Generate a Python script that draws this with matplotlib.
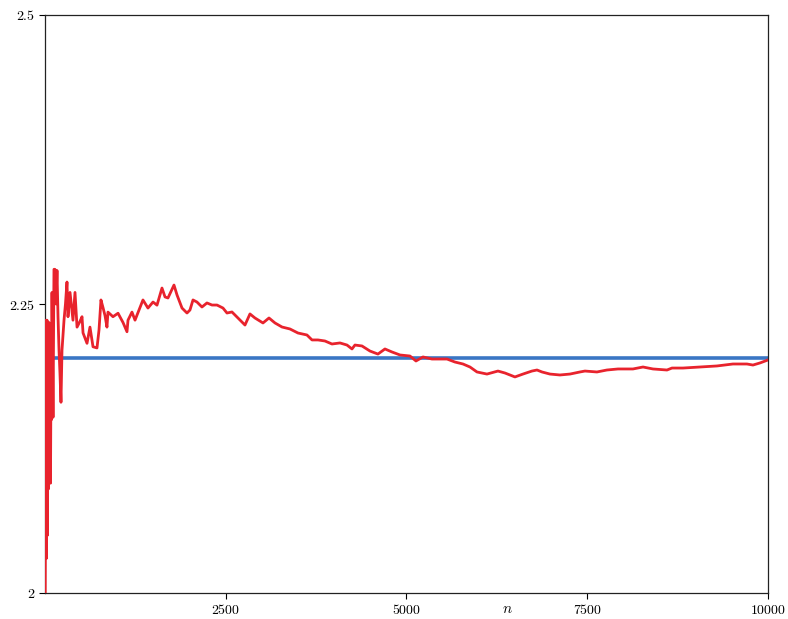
import matplotlib
matplotlib.use("Agg")
import matplotlib.pyplot as plt
from matplotlib.ticker import FixedLocator, FuncFormatter

plt.rcParams["mathtext.fontset"] = "cm"

# Reference constant
target = 2.203

# Running estimate as a function of the number of samples n
n_vals = [1, 14, 21, 28, 35, 41, 48, 55, 62, 69, 76, 83, 90, 97, 111, 124, 138, 152, 166,
          180, 194, 207, 221, 235, 263, 283, 304, 318, 346, 387, 415, 443, 484, 512, 526,
          581, 622, 664, 719, 747, 774, 802, 830, 857, 871, 940, 1010, 1079, 1134, 1148,
          1203, 1245, 1314, 1355, 1424, 1494, 1549, 1618, 1660, 1701, 1784, 1826, 1895,
          1964, 2005, 2047, 2102, 2171, 2240, 2310, 2379, 2462, 2517, 2586, 2669, 2766,
          2835, 2904, 3015, 3098, 3181, 3278, 3388, 3499, 3623, 3693, 3776, 3872, 3969,
          4080, 4177, 4246, 4287, 4384, 4495, 4605, 4702, 4799, 4910, 5048, 5131, 5228,
          5352, 5463, 5560, 5670, 5781, 5878, 5975, 6113, 6265, 6362, 6500, 6611, 6735,
          6805, 6874, 6984, 7122, 7261, 7399, 7468, 7634, 7772, 7925, 8132, 8271, 8409,
          8603, 8672, 8824, 9059, 9294, 9515, 9709, 9792, 9889, 10000]
estimate = [1.95, 2.236, 2.03, 2.236, 2.05, 2.23, 2.09, 2.234, 2.10, 2.22, 2.095, 2.19,
            2.15, 2.26, 2.152, 2.28, 2.28, 2.25, 2.279, 2.239, 2.21, 2.19, 2.165, 2.21,
            2.236, 2.25, 2.269, 2.239, 2.26, 2.236, 2.26, 2.23, 2.235, 2.239, 2.225,
            2.216, 2.23, 2.213, 2.212, 2.2275, 2.2535, 2.247, 2.24, 2.230, 2.243, 2.239,
            2.242, 2.234, 2.226, 2.236, 2.243, 2.236, 2.247, 2.2535, 2.2465, 2.2517,
            2.249, 2.2638, 2.2561, 2.2552, 2.2664, 2.2578, 2.2465, 2.2422, 2.2448,
            2.2535, 2.2517, 2.2474, 2.2509, 2.2491, 2.2491, 2.2465, 2.2422, 2.2431,
            2.2379, 2.2318, 2.2414, 2.2379, 2.2336, 2.2379, 2.2336, 2.2301, 2.2284,
            2.2249, 2.2232, 2.2189, 2.2189, 2.2180, 2.2154, 2.2163, 2.2145, 2.2111,
            2.2145, 2.2137, 2.2093, 2.2067, 2.2111, 2.2085, 2.2059, 2.2050, 2.2007,
            2.2042, 2.2024, 2.2024, 2.2024, 2.1998, 2.1981, 2.1955, 2.1912, 2.1894,
            2.1920, 2.1903, 2.1869, 2.1894, 2.1920, 2.1929, 2.1912, 2.1894, 2.1886,
            2.1894, 2.1912, 2.1920, 2.1912, 2.1929, 2.1938, 2.1938, 2.1955, 2.1938,
            2.1929, 2.1946, 2.1946, 2.1955, 2.1964, 2.1981, 2.1981, 2.1972, 2.1990,
            2.2016]

x_ticks = [2500, 5000, 7500, 10000]
y_ticks = [2, 2.25, 2.5]

fig = plt.figure(figsize=(7.88, 6.19), dpi=100)
ax = fig.add_axes([45 / 788, 26 / 619, 723 / 788, 578 / 619])

ax.axhline(target, color="#3a76c4", lw=2.6, zorder=2)
ax.plot(n_vals, estimate, color="#e8232d", lw=2.0, zorder=3)

ax.set_xlim(0, 10000)
ax.set_ylim(2, 2.5)
ax.xaxis.set_major_locator(FixedLocator(x_ticks))
ax.yaxis.set_major_locator(FixedLocator(y_ticks))
ax.xaxis.set_major_formatter(FuncFormatter(lambda v, p: f"${v:g}$"))
ax.yaxis.set_major_formatter(FuncFormatter(lambda v, p: f"${v:g}$"))
ax.tick_params(direction="out", length=4, width=0.8, labelsize=10, pad=3,
               top=False, right=False)
for s in ax.spines.values():
    s.set_linewidth(0.9)
    s.set_color("#222222")

ax.set_xlabel("$n$", fontsize=11)
ax.xaxis.set_label_coords(0.639, -0.027)
ax.xaxis.label.set_va("center")

fig.savefig("out.png", dpi=100)
